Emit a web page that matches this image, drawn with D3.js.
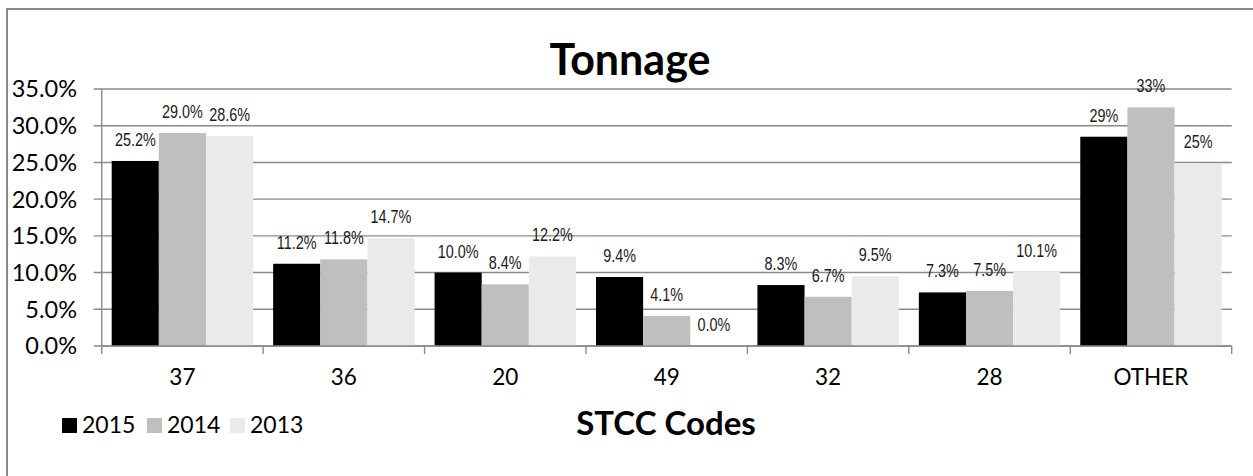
<!DOCTYPE html>
<html>
<head>
<meta charset="utf-8">
<script src="https://cdn.jsdelivr.net/npm/d3@7"></script>
<style>
  html, body { margin: 0; padding: 0; background: #fff; }
  svg { display: block; }
</style>
</head>
<body>
<svg id="chart" width="1253" height="476"></svg>
<script>
const categories = ["37", "36", "20", "49", "32", "28", "OTHER"];
const seriesNames = ["2015", "2014", "2013"];
const values2015 = [25.2, 11.2, 10.0, 9.4, 8.3, 7.3, 28.5];
const values2014 = [29.0, 11.8, 8.4, 4.1, 6.7, 7.5, 32.5];
const values2013 = [28.6, 14.7, 12.2, 0.0, 9.5, 10.1, 24.9];
const labels2015 = ["25.2%", "11.2%", "10.0%", "9.4%", "8.3%", "7.3%", "29%"];
const labels2014 = ["29.0%", "11.8%", "8.4%", "4.1%", "6.7%", "7.5%", "33%"];
const labels2013 = ["28.6%", "14.7%", "12.2%", "0.0%", "9.5%", "10.1%", "25%"];
const yTicks = [0, 5, 10, 15, 20, 25, 30, 35];
const colors = ["#000000", "#bfbfbf", "#eaeaea"];

const seriesValues = [values2015, values2014, values2013];
const seriesLabels = [labels2015, labels2014, labels2013];

const svg = d3.select("#chart");
const plot = { left: 101.7, right: 1231.7, top: 89, bottom: 346 };
const font = "Lato, 'Open Sans', sans-serif";

// outer chart border
svg.append("rect").attr("x", 7).attr("y", 9).attr("width", 1260).attr("height", 500)
  .attr("fill", "none").attr("stroke", "#888").attr("stroke-width", 2);

const x0 = d3.scaleBand().domain(categories).range([plot.left, plot.right]).paddingInner(0).paddingOuter(0);
const inner = x0.bandwidth() * 0.062;
const x1 = d3.scaleBand().domain(seriesNames).range([inner, x0.bandwidth() - inner]).padding(0);
const y = d3.scaleLinear().domain([0, 35]).range([plot.bottom, plot.top]);

// gridlines
svg.append("g").selectAll("line").data(yTicks).join("line")
  .attr("x1", plot.left - 8).attr("x2", plot.right)
  .attr("y1", d => y(d)).attr("y2", d => y(d))
  .attr("stroke", "#8a8a8a").attr("stroke-width", 1.4);

// y labels
svg.append("g").selectAll("text").data(yTicks).join("text")
  .attr("x", 77).attr("y", d => y(d)).attr("dy", "0.36em")
  .attr("text-anchor", "end")
  .style("font-family", font).style("font-size", "23.5px").attr("fill", "#000")
  .text(d => d.toFixed(1) + "%");

// bars
const groups = svg.append("g").selectAll("g").data(categories).join("g")
  .attr("transform", c => `translate(${x0(c)},0)`);

const rows = (c, i) => seriesNames.map((s, j) => ({ s, v: seriesValues[j][i], l: seriesLabels[j][i], j }));

groups.selectAll("rect").data(rows)
  .join("rect")
  .attr("x", d => x1(d.s)).attr("width", x1.bandwidth())
  .attr("y", d => y(d.v)).attr("height", d => y(0) - y(d.v))
  .attr("fill", d => colors[d.j]);

groups.selectAll("text").data(rows)
  .join("text")
  .attr("transform", d => `translate(${x1(d.s) + x1.bandwidth() / 2},${y(d.v) - 15}) scale(0.8,1)`)
  .attr("text-anchor", "middle")
  .style("font-family", "'Liberation Sans', Arial, sans-serif")
  .style("font-size", "18px").attr("fill", "#1a1a1a")
  .text(d => d.l);

// x axis line
svg.append("line").attr("x1", plot.left).attr("x2", plot.right)
  .attr("y1", plot.bottom).attr("y2", plot.bottom)
  .attr("stroke", "#8a8a8a").attr("stroke-width", 1.4);

const boundaries = categories.map(c => x0(c)).concat([plot.right]);
svg.append("g").selectAll("line").data(boundaries).join("line")
  .attr("x1", d => d).attr("x2", d => d)
  .attr("y1", plot.bottom).attr("y2", plot.bottom + 8)
  .attr("stroke", "#8a8a8a").attr("stroke-width", 1.4);

// y axis line
svg.append("line").attr("x1", plot.left).attr("x2", plot.left)
  .attr("y1", plot.top).attr("y2", plot.bottom)
  .attr("stroke", "#8a8a8a").attr("stroke-width", 1.4);

// x labels
svg.append("g").selectAll("text").data(categories).join("text")
  .attr("x", c => x0(c) + x0.bandwidth() / 2).attr("y", 385)
  .attr("text-anchor", "middle")
  .style("font-family", font).style("font-size", "22.5px").attr("fill", "#000")
  .text(c => c);

// title
svg.append("text").attr("x", 630).attr("y", 75).attr("text-anchor", "middle")
  .style("font-family", font).style("font-weight", "bold").style("font-size", "43px")
  .text("Tonnage");

// axis title
svg.append("text").attr("x", 666).attr("y", 435).attr("text-anchor", "middle")
  .style("font-family", font).style("font-weight", "bold").style("font-size", "33px")
  .text("STCC Codes");

// legend
const legendX = [62, 147, 230];
const leg = svg.append("g").selectAll("g").data(seriesNames).join("g")
  .attr("transform", (d, i) => `translate(${legendX[i]},0)`);
leg.append("rect").attr("x", 0).attr("y", 418).attr("width", 15).attr("height", 15)
  .attr("fill", (d, i) => colors[i]);
leg.append("text").attr("x", 20).attr("y", 433)
  .style("font-family", font).style("font-size", "23px").attr("fill", "#000")
  .text(d => d);
</script>
</body>
</html>
